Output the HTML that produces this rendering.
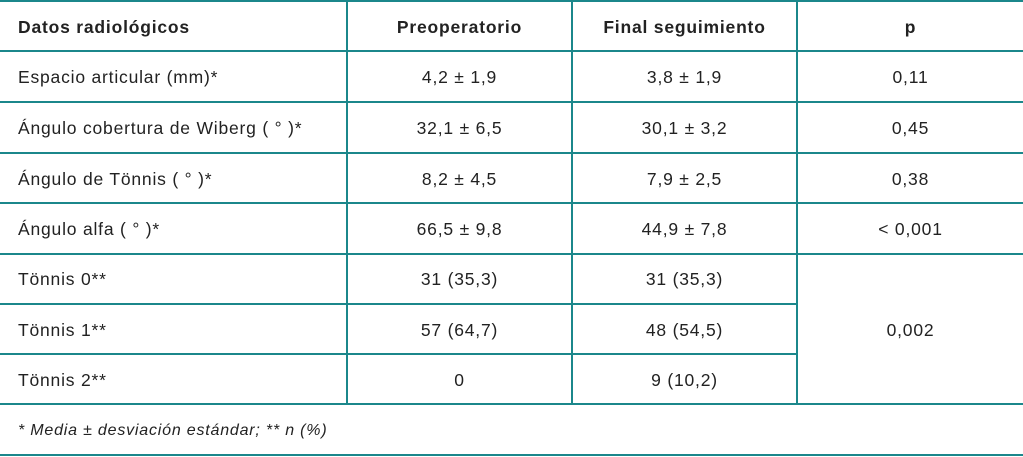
<!DOCTYPE html>
<html><head><meta charset="utf-8"><style>
body{margin:0;width:1023px;height:457px;background:#fff;position:relative;overflow:hidden;font-family:"Liberation Sans",sans-serif;color:#222;font-size:17.5px;letter-spacing:0.8px}
.h{position:absolute;left:0;width:1023px;height:2px;background:#1b878b}
.v{position:absolute;width:2px;background:#1b878b}
.t{position:absolute;line-height:20px;white-space:nowrap}
.c{text-align:center}
</style></head><body>
<div class="h" style="top:0"></div>
<div class="h" style="top:50px"></div>
<div class="h" style="top:101px"></div>
<div class="h" style="top:152px"></div>
<div class="h" style="top:202px"></div>
<div class="h" style="top:253px"></div>
<div class="h" style="top:303px;width:797px"></div>
<div class="h" style="top:353px;width:797px"></div>
<div class="h" style="top:403px"></div>
<div class="h" style="top:454px"></div>
<div class="v" style="left:346px;top:0;height:405px"></div>
<div class="v" style="left:571px;top:0;height:405px"></div>
<div class="v" style="left:796px;top:0;height:405px"></div>

<div class="t" style="left:18px;top:17px;font-weight:bold">Datos radiológicos</div>
<div class="t c" style="left:348px;width:223px;top:17px;font-weight:bold">Preoperatorio</div>
<div class="t c" style="left:573px;width:223px;top:17px;font-weight:bold">Final seguimiento</div>
<div class="t c" style="left:798px;width:225px;top:17px;font-weight:bold">p</div>

<div class="t" style="left:18px;top:67px">Espacio articular (mm)*</div>
<div class="t c" style="left:348px;width:223px;top:67px">4,2 ± 1,9</div>
<div class="t c" style="left:573px;width:223px;top:67px">3,8 ± 1,9</div>
<div class="t c" style="left:798px;width:225px;top:67px">0,11</div>

<div class="t" style="left:18px;top:118px">Ángulo cobertura de Wiberg ( ° )*</div>
<div class="t c" style="left:348px;width:223px;top:118px">32,1 ± 6,5</div>
<div class="t c" style="left:573px;width:223px;top:118px">30,1 ± 3,2</div>
<div class="t c" style="left:798px;width:225px;top:118px">0,45</div>

<div class="t" style="left:18px;top:169px">Ángulo de Tönnis ( ° )*</div>
<div class="t c" style="left:348px;width:223px;top:169px">8,2 ± 4,5</div>
<div class="t c" style="left:573px;width:223px;top:169px">7,9 ± 2,5</div>
<div class="t c" style="left:798px;width:225px;top:169px">0,38</div>

<div class="t" style="left:18px;top:219px">Ángulo alfa ( ° )*</div>
<div class="t c" style="left:348px;width:223px;top:219px">66,5 ± 9,8</div>
<div class="t c" style="left:573px;width:223px;top:219px">44,9 ± 7,8</div>
<div class="t c" style="left:798px;width:225px;top:219px">&lt; 0,001</div>

<div class="t" style="left:18px;top:269px">Tönnis 0**</div>
<div class="t c" style="left:348px;width:223px;top:269px">31 (35,3)</div>
<div class="t c" style="left:573px;width:223px;top:269px">31 (35,3)</div>

<div class="t" style="left:18px;top:320px">Tönnis 1**</div>
<div class="t c" style="left:348px;width:223px;top:320px">57 (64,7)</div>
<div class="t c" style="left:573px;width:223px;top:320px">48 (54,5)</div>
<div class="t c" style="left:798px;width:225px;top:320px">0,002</div>

<div class="t" style="left:18px;top:370px">Tönnis 2**</div>
<div class="t c" style="left:348px;width:223px;top:370px">0</div>
<div class="t c" style="left:573px;width:223px;top:370px">9 (10,2)</div>

<div class="t" style="left:18px;top:421px;font-style:italic;font-size:16px">* Media ± desviación estándar; ** n (%)</div>
</body></html>
